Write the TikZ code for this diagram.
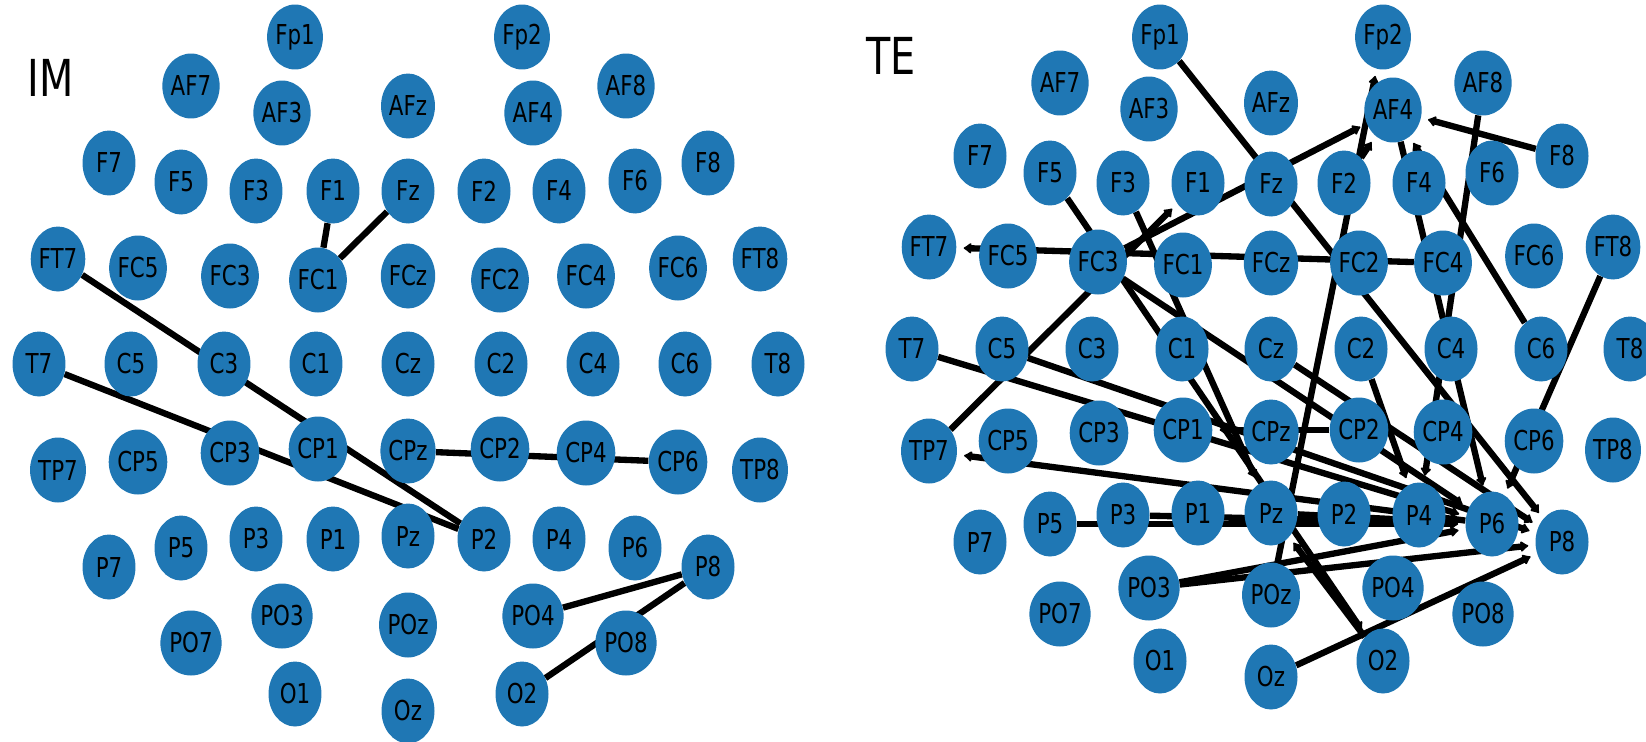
\documentclass[tikz,border=0pt]{standalone}
\usepackage{fontspec}
\setmainfont{DejaVu Sans}[FakeStretch=0.78]
\usetikzlibrary{shapes.geometric,arrows.meta,backgrounds}
\definecolor{mplblue}{HTML}{1F77B4}
\begin{document}
\begin{tikzpicture}[x=0.02cm, y=-0.02cm,
  elec/.style={ellipse, fill=mplblue, minimum width=1.06cm, minimum height=1.3cm, inner sep=0pt, font=\fontsize{15.6}{18}\selectfont},
  link/.style={line width=3.6pt},
  flow/.style={line width=3.6pt, -{Latex[length=5pt,width=7.5pt,round]}, shorten >=4pt},
  panel/.style={anchor=west, inner sep=0pt, font=\fontsize{29}{32}\selectfont}]
\useasboundingbox (0,0) rectangle (1646,741);

% IM panel
\node[panel] (imlabel) at (27,78) {IM};
\foreach \n/\x/\y in {Fp1/295/37, Fp2/522/37, AF7/191/86, AF3/282/113, AFz/408/106, AF4/533/113, AF8/626/86,
  F7/109/163, F5/181/182, F3/256/191, F1/333/191, Fz/408/191, F2/484/191, F4/559/191, F6/635/181, F8/708/163,
  FT7/58/259, FC5/138/268, FC3/230/276, FC1/318/280, FCz/408/276, FC2/500/280, FC4/586/276, FC6/678/268, FT8/760/259,
  T7/39/364, C5/131/364, C3/224/364, C1/316/364, Cz/408/364, C2/501/364, C4/593/364, C6/685/364, T8/778/364,
  TP7/58/470, CP5/138/462, CP3/230/453, CP1/318/449, CPz/408/451, CP2/500/449, CP4/586/453, CP6/678/462, TP8/760/470,
  P7/109/567, P5/181/548, P3/256/539, P1/333/539, Pz/408/536, P2/484/539, P4/559/539, P6/635/548, P8/708/567,
  PO7/191/643, PO3/282/616, POz/408/625, PO4/533/616, PO8/626/643, O1/295/694, Oz/408/711, O2/522/694}
  \node[elec] (i\n) at (\x,\y) {\n};

% TE panel
\node[panel] (telabel) at (866,56) {TE};
\foreach \n/\x/\y in {Fp1/1160/37, Fp2/1383/37, AF7/1060/83, AF3/1149/109, AFz/1271/103, AF4/1393/110, AF8/1483/83,
  F7/980/156, F5/1050/173, F3/1123/183, F1/1198/183, Fz/1271/184, F2/1344/183, F4/1419/183, F6/1492/173, F8/1562/156,
  FT7/929/247, FC5/1008/256, FC3/1098/262, FC1/1183/265, FCz/1271/263, FC2/1359/263, FC4/1443/263, FC6/1534/256, FT8/1613/247,
  T7/912/349, C5/1002/349, C3/1092/349, C1/1182/349, Cz/1271/349, C2/1361/349, C4/1451/349, C6/1541/349, T8/1630/349,
  TP7/929/451, CP5/1008/441, CP3/1099/433, CP1/1183/430, CPz/1271/432, CP2/1359/430, CP4/1443/432, CP6/1534/441, TP8/1613/450,
  P7/980/542, P5/1050/524, P3/1123/515, P1/1198/513, Pz/1271/513, P2/1344/514, P4/1419/515, P6/1492/524, P8/1562/542,
  PO7/1060/614, PO3/1149/588, POz/1271/595, PO4/1393/588, PO8/1483/614, O1/1160/661, Oz/1271/677, O2/1383/661}
  \node[elec] (t\n) at (\x,\y) {\n};

\begin{scope}[on background layer]
  % IM links
  \draw[link] (iF1) -- (iFC1);
  \draw[link] (iFz) -- (iFC1);
  \draw[link] (iFT7) -- (iP2);
  \draw[link] (iT7) -- (iP2);
  \draw[link] (iCPz) -- (iCP6);
  \draw[link] (iPO4) -- (iP8);
  \draw[link] (iO2) -- (iP8);
  % TE flows
  \draw[flow] (tFp1) -- (tP8);
  \draw[flow] (tF8) -- (tAF4);
  \draw[flow] (tFC3) -- (tAF4);
  \draw[flow] (tF2) -- (tAF4);
  \draw[flow] (tTP7) -- (tF1);
  \draw[flow] (tFC4) -- (tFT7);
  \draw[flow] (tC6) -- (tAF4);
  \draw[flow] (tAF4) -- (tP6);
  \draw[flow] (tAF8) -- (tP4);
  \draw[flow] (tFT8) -- (tP6);
  \draw[flow] (tPOz) -- (tFp2);
  \draw[flow] (tF5) -- (tO2);
  \draw[flow] (tF3) -- (tPz);
  \draw[flow] (tO2) -- (tPz);
  \draw[flow] (tFC3) -- (tP6);
  \draw[flow] (tT7) -- (tP6);
  \draw[flow] (tC5) -- (tP8);
  \draw[flow] (tC2) -- (tP4);
  \draw[flow] (tCz) -- (tP8);
  \draw[flow] (tP5) -- (tP6);
  \draw[flow] (tP3) -- (tP6);
  \draw[flow] (tPz) -- (tP6);
  \draw[flow] (tP6) -- (tTP7);
  \draw[flow] (tCP2) -- (tCP1);
  \draw[flow] (tPO3) -- (tP6);
  \draw[flow] (tPO3) -- (tP8);
  \draw[flow] (tOz) -- (tP8);
\end{scope}
\end{tikzpicture}
\end{document}
